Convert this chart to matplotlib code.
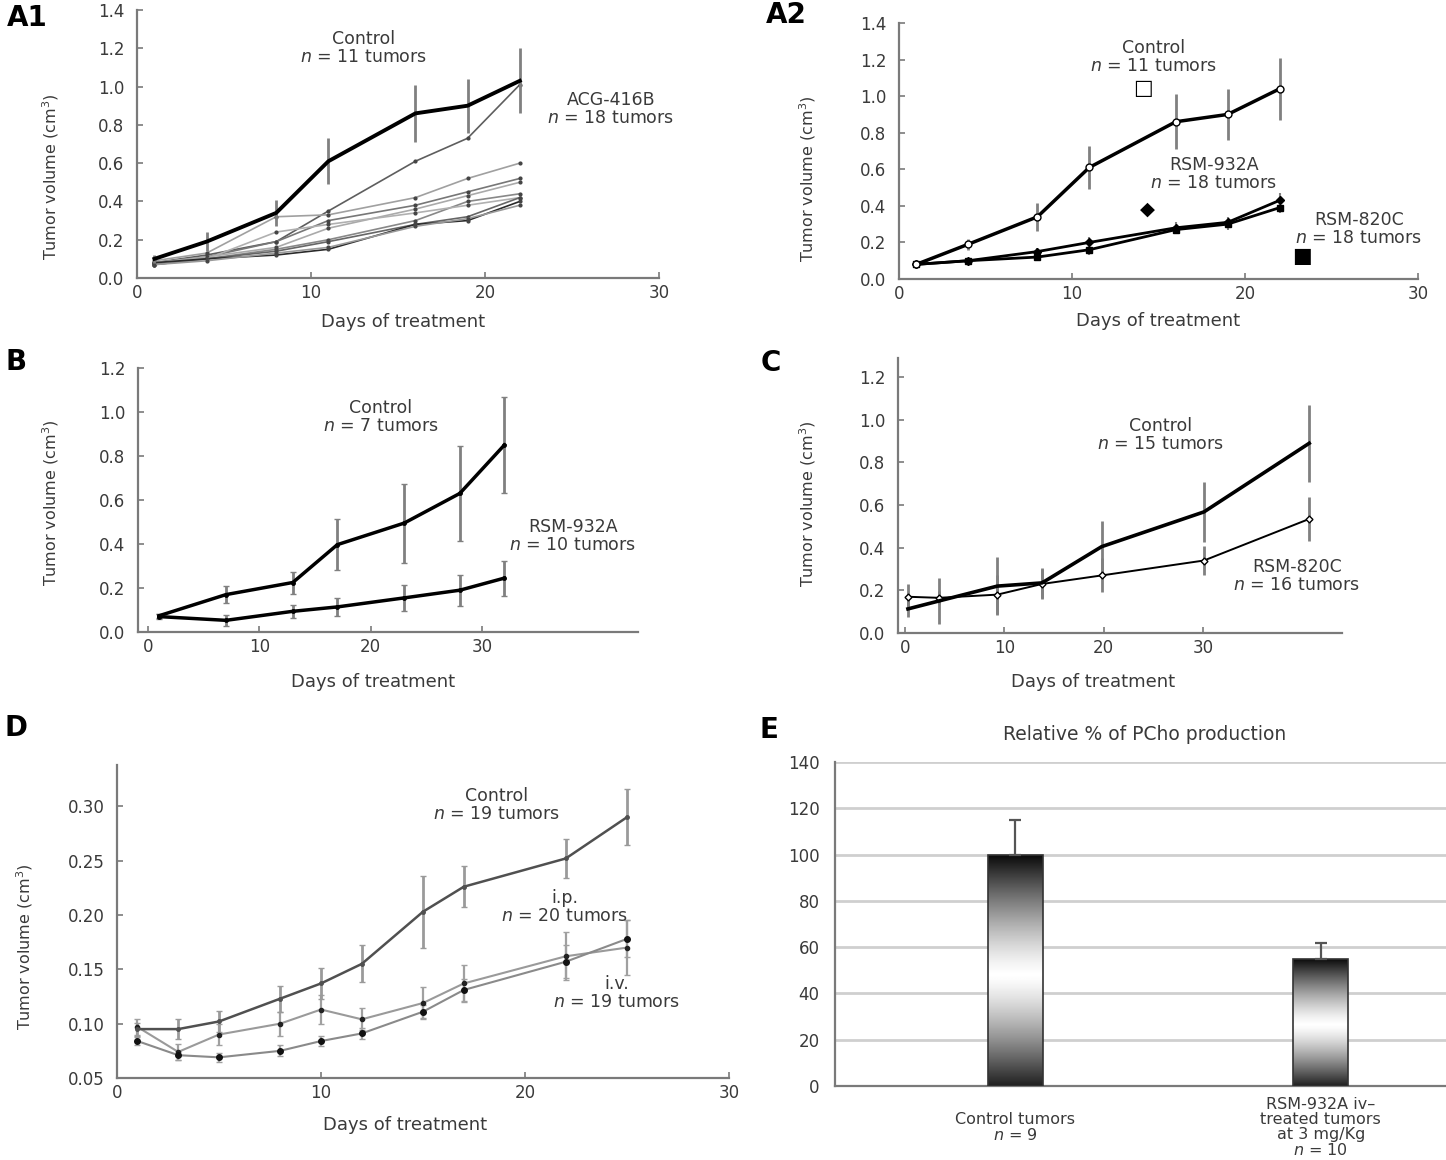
import numpy as np
import matplotlib
matplotlib.use("Agg")
import matplotlib.pyplot as plt

plt.rcParams["font.family"] = ["DejaVu Sans"]
plt.rcParams["mathtext.fontset"] = "dejavusans"

W, H = 1446, 1160
TEXT = "#3a3a3a"
SPINE = "#7a7a7a"
ERRC = "#808080"

# ---- data ----
A_DAYS = [1, 4, 8, 11, 16, 19, 22]
A1_CONTROL = [0.10, 0.19, 0.34, 0.61, 0.86, 0.90, 1.03]
A1_CONTROL_ERR = [0.02, 0.05, 0.07, 0.12, 0.15, 0.14, 0.17]
A1_ACG_1 = [0.08, 0.12, 0.19, 0.35, 0.61, 0.73, 1.01]
A1_ACG_2 = [0.09, 0.13, 0.32, 0.33, 0.42, 0.52, 0.60]
A1_ACG_3 = [0.08, 0.11, 0.19, 0.30, 0.38, 0.45, 0.52]
A1_ACG_4 = [0.08, 0.11, 0.16, 0.26, 0.36, 0.43, 0.50]
A1_ACG_5 = [0.07, 0.10, 0.15, 0.20, 0.30, 0.40, 0.44]
A1_ACG_6 = [0.08, 0.10, 0.24, 0.28, 0.34, 0.38, 0.42]
A1_ACG_7 = [0.07, 0.10, 0.14, 0.19, 0.28, 0.32, 0.42]
A1_ACG_8 = [0.08, 0.10, 0.12, 0.15, 0.28, 0.30, 0.40]
A1_ACG_9 = [0.07, 0.09, 0.13, 0.16, 0.27, 0.31, 0.38]

A2_CONTROL = [0.08, 0.19, 0.34, 0.61, 0.86, 0.90, 1.04]
A2_CONTROL_ERR = [0.01, 0.03, 0.075, 0.12, 0.15, 0.14, 0.17]
A2_RSM932A = [0.08, 0.10, 0.15, 0.20, 0.28, 0.31, 0.43]
A2_RSM932A_ERR = [0.01, 0.01, 0.02, 0.03, 0.03, 0.03, 0.04]
A2_RSM820C = [0.08, 0.10, 0.12, 0.16, 0.27, 0.30, 0.39]
A2_RSM820C_ERR = [0.01, 0.01, 0.02, 0.03, 0.02, 0.03, 0.03]

B_DAYS = [1, 7, 13, 17, 23, 28, 32]
B_CONTROL = [0.074, 0.17, 0.225, 0.397, 0.495, 0.63, 0.85]
B_CONTROL_ERR = [0.01, 0.04, 0.05, 0.115, 0.18, 0.215, 0.22]
B_RSM932A = [0.07, 0.053, 0.094, 0.114, 0.155, 0.19, 0.245]
B_RSM932A_ERR = [0.01, 0.025, 0.03, 0.04, 0.06, 0.07, 0.08]

C_DAYS = [0.3, 3.4, 9.3, 13.8, 19.8, 30.1, 40.7]
C_CONTROL = [0.113, 0.15, 0.22, 0.235, 0.405, 0.568, 0.89]
C_CONTROL_ERR = [0.04, 0.11, 0.135, 0.07, 0.12, 0.14, 0.18]
C_RSM820C = [0.17, 0.165, 0.18, 0.23, 0.27, 0.34, 0.535]
C_RSM820C_ERR = [0.06, 0.03, 0.09, 0.07, 0.08, 0.07, 0.105]

D_DAYS = [1, 3, 5, 8, 10, 12, 15, 17, 22, 25]
D_CONTROL = [0.095, 0.095, 0.102, 0.123, 0.137, 0.155, 0.203, 0.226, 0.252, 0.290]
D_CONTROL_ERR = [0.006, 0.009, 0.010, 0.012, 0.014, 0.017, 0.033, 0.019, 0.018, 0.026]
D_IP = [0.097, 0.074, 0.090, 0.100, 0.113, 0.104, 0.119, 0.137, 0.162, 0.170]
D_IP_ERR = [0.007, 0.007, 0.010, 0.011, 0.013, 0.010, 0.015, 0.017, 0.022, 0.025]
D_IV = [0.084, 0.071, 0.069, 0.075, 0.084, 0.091, 0.111, 0.131, 0.157, 0.178]
D_IV_ERR = [0.004, 0.004, 0.004, 0.005, 0.005, 0.005, 0.006, 0.010, 0.015, 0.017]

E_LABELS = ["Control tumors\n$n$ = 9",
            "RSM-932A iv–\ntreated tumors\nat 3 mg/Kg\n$n$ = 10"]
E_VALUES = [100, 55]
E_ERR = [15, 7]


def px_axes(fig, left, top, right, bottom):
    return fig.add_axes([left / W, 1 - bottom / H, (right - left) / W, (bottom - top) / H])


def ftext(fig, x, y, s, size=12.5, **kw):
    kw.setdefault("color", TEXT)
    kw.setdefault("linespacing", 0.95)
    fig.text(x / W, 1 - y / H, s, fontsize=size, ha="center", va="center", **kw)


def style(ax, ylabel_pos, xlabel_pos, ylabel=True):
    for side in ("top", "right"):
        ax.spines[side].set_visible(False)
    for side in ("left", "bottom"):
        ax.spines[side].set_color(SPINE)
        ax.spines[side].set_linewidth(1.6)
    ax.tick_params(direction="in", length=4, width=1.2, color=SPINE,
                   labelsize=12, labelcolor=TEXT)
    ax.tick_params(axis="y", pad=9)
    ax.tick_params(axis="x", pad=4)
    ax.set_xlabel("Days of treatment", fontsize=13, color=TEXT)
    ax.xaxis.set_label_coords(*xlabel_pos)
    if ylabel:
        ax.set_ylabel("Tumor volume (cm$^3$)", fontsize=11.5, color=TEXT)
        ax.yaxis.set_label_coords(*ylabel_pos)


def panel_a1(fig):
    ax = px_axes(fig, 137, 10, 659, 278)
    treated = [A1_ACG_1, A1_ACG_2, A1_ACG_3, A1_ACG_4, A1_ACG_5,
               A1_ACG_6, A1_ACG_7, A1_ACG_8, A1_ACG_9]
    greys = ["#5e5e5e", "#a0a0a0", "#777", "#aaa", "#888", "#b0b0b0", "#666", "#2a2a2a", "#999"]
    for vals, c in zip(treated, greys):
        ax.plot(A_DAYS, vals, color=c, lw=1.2, marker="o", ms=2,
                mfc="#444", mec="#444")
    ax.errorbar(A_DAYS, A1_CONTROL, yerr=A1_CONTROL_ERR, color="black", lw=2.8,
                ecolor=ERRC, elinewidth=2, capsize=0, zorder=5)
    ax.set_xlim(0, 30)
    ax.set_ylim(0, 1.4)
    ax.set_xticks([0, 10, 20, 30])
    ax.set_yticks(np.arange(0, 1.41, 0.2))
    ax.set_yticklabels([f"{v:.1f}" for v in np.arange(0, 1.41, 0.2)])
    style(ax, (-0.146, 0.377), (0.51, -0.13))
    ftext(fig, 364, 48, "Control\n$n$ = 11 tumors")
    ftext(fig, 611, 109, "ACG-416B\n$n$ = 18 tumors")


def panel_a2(fig):
    ax = px_axes(fig, 899, 23, 1418, 279)
    ax.errorbar(A_DAYS, A2_RSM932A, yerr=A2_RSM932A_ERR, color="black", lw=2,
                marker="D", ms=4.5, ecolor=ERRC, elinewidth=1.5)
    ax.errorbar(A_DAYS, A2_RSM820C, yerr=A2_RSM820C_ERR, color="black", lw=2,
                marker="s", ms=4.5, ecolor=ERRC, elinewidth=1.5)
    ax.errorbar(A_DAYS, A2_CONTROL, yerr=A2_CONTROL_ERR, color="black", lw=2.5,
                marker="o", ms=5, mfc="white", ecolor=ERRC, elinewidth=2, zorder=5)
    ax.set_xlim(0, 30)
    ax.set_ylim(0, 1.4)
    ax.set_xticks([0, 10, 20, 30])
    ax.set_yticks(np.arange(0, 1.41, 0.2))
    ax.set_yticklabels([f"{v:.1f}" for v in np.arange(0, 1.41, 0.2)])
    style(ax, (-0.156, 0.39), (0.50, -0.13))
    ftext(fig, 1154, 57, "Control\n$n$ = 11 tumors")
    ftext(fig, 1143, 88, "□", size=15, color="black")
    ftext(fig, 1214, 174, "RSM-932A\n$n$ = 18 tumors")
    ftext(fig, 1147, 209, "◆", size=14, color="black")
    ftext(fig, 1359, 229, "RSM-820C\n$n$ = 18 tumors")
    ftext(fig, 1302, 256, "■", size=15, color="black")


def panel_b(fig):
    ax = px_axes(fig, 138, 368, 638, 632)
    ax.errorbar(B_DAYS, B_CONTROL, yerr=B_CONTROL_ERR, color="black", lw=2.5,
                marker="o", ms=2.5, ecolor=ERRC, elinewidth=2, capsize=2)
    ax.errorbar(B_DAYS, B_RSM932A, yerr=B_RSM932A_ERR, color="black", lw=2.5,
                marker="o", ms=2.5, ecolor=ERRC, elinewidth=2, capsize=2)
    ax.set_xlim(-0.9, 44)
    ax.set_ylim(0, 1.2)
    ax.set_xticks([0, 10, 20, 30])
    ax.set_yticks(np.arange(0, 1.21, 0.2))
    ax.set_yticklabels([f"{v:.1f}" for v in np.arange(0, 1.21, 0.2)])
    style(ax, (-0.154, 0.49), (0.47, -0.155))
    ftext(fig, 381, 417, "Control\n$n$ = 7 tumors")
    ftext(fig, 573, 536, "RSM-932A\n$n$ = 10 tumors")


def panel_c(fig):
    ax = px_axes(fig, 898, 358, 1342, 633)
    ax.errorbar(C_DAYS, C_RSM820C, yerr=C_RSM820C_ERR, color="black", lw=1.4,
                marker="D", ms=3.5, mfc="white", ecolor=ERRC, elinewidth=2)
    ax.errorbar(C_DAYS, C_CONTROL, yerr=C_CONTROL_ERR, color="black", lw=2.6,
                ecolor=ERRC, elinewidth=2)
    ax.set_xlim(-0.7, 44)
    ax.set_ylim(0, 1.29)
    ax.set_xticks([0, 10, 20, 30])
    ax.set_yticks(np.arange(0, 1.21, 0.2))
    ax.set_yticklabels([f"{v:.1f}" for v in np.arange(0, 1.21, 0.2)])
    style(ax, (-0.18, 0.47), (0.44, -0.145))
    ftext(fig, 1161, 435, "Control\n$n$ = 15 tumors")
    ftext(fig, 1297, 576, "RSM-820C\n$n$ = 16 tumors")


def panel_d(fig):
    ax = px_axes(fig, 117, 765, 729, 1078)
    ax.errorbar(D_DAYS, D_IP, yerr=D_IP_ERR, color="#9a9a9a", lw=1.5, marker="o",
                ms=3, mfc="#222", mec="#222", ecolor="#a0a0a0", elinewidth=1.6, capsize=2)
    ax.errorbar(D_DAYS, D_IV, yerr=D_IV_ERR, color="#8a8a8a", lw=1.5, marker="o",
                ms=4, mfc="#111", mec="#111", ecolor="#a0a0a0", elinewidth=1.6, capsize=2)
    ax.errorbar(D_DAYS, D_CONTROL, yerr=D_CONTROL_ERR, color="#505050", lw=1.8,
                marker="o", ms=2.5, ecolor="#9a9a9a", elinewidth=2, capsize=2)
    ax.set_xlim(0, 30)
    ax.set_ylim(0.05, 0.338)
    ax.set_xticks([0, 10, 20, 30])
    ax.set_yticks(np.arange(0.05, 0.301, 0.05))
    ax.set_yticklabels([f"{v:.2f}" for v in np.arange(0.05, 0.301, 0.05)])
    style(ax, (-0.134, 0.42), (0.47, -0.12))
    ftext(fig, 497, 805, "Control\n$n$ = 19 tumors")
    ftext(fig, 565, 907, "i.p.\n$n$ = 20 tumors")
    ftext(fig, 617, 993, "i.v.\n$n$ = 19 tumors")


def panel_e(fig):
    ax = px_axes(fig, 835, 762, 1446, 1086)
    pos = np.arange(len(E_VALUES))
    bars = ax.bar(pos, E_VALUES, width=0.18, facecolor="none", edgecolor="#333",
                  lw=1.2, zorder=4)
    # cylinder-like shading: dark at top and bottom, white in the middle
    t = np.linspace(0, 1, 256)
    grad = (1 - np.abs(2 * t - 1.04) ** 1.3 * 0.92).reshape(-1, 1)
    for bar in bars:
        x0, w, h = bar.get_x(), bar.get_width(), bar.get_height()
        im = ax.imshow(grad, extent=[x0, x0 + w, 0, h], aspect="auto",
                       cmap="gray", vmin=0, vmax=1, zorder=3)
        im.set_clip_path(bar)
    ax.errorbar(pos, E_VALUES, yerr=[[0] * len(E_ERR), E_ERR], fmt="none",
                ecolor="#555", elinewidth=1.6, capsize=4, capthick=1.6, zorder=5)
    ax.set_xlim(-0.59, 1.41)
    ax.set_ylim(0, 140)
    ax.set_yticks(np.arange(0, 141, 20))
    ax.yaxis.grid(True, color="#cfcfcf", lw=2)
    ax.set_axisbelow(True)
    for side in ("top", "right"):
        ax.spines[side].set_visible(False)
    for side in ("left", "bottom"):
        ax.spines[side].set_color(SPINE)
        ax.spines[side].set_linewidth(1.6)
    ax.set_xticks(pos)
    ax.set_xticklabels(E_LABELS, fontsize=11.5, color=TEXT, linespacing=1.0)
    for lbl in ax.get_xticklabels():
        lbl.set_va("center")
    ax.tick_params(axis="x", length=0, pad=30)
    ax.tick_params(axis="y", length=0, pad=11, labelsize=12, labelcolor=TEXT)
    ftext(fig, 1145, 735, "Relative % of PCho production", size=13.5)


def main():
    fig = plt.figure(figsize=(W / 100, H / 100), dpi=100)
    panel_a1(fig)
    panel_a2(fig)
    panel_b(fig)
    panel_c(fig)
    panel_d(fig)
    panel_e(fig)
    for s, x, y in [("A1", 27, 18), ("A2", 786, 15), ("B", 16, 362),
                    ("C", 771, 363), ("D", 16, 728), ("E", 769, 730)]:
        ftext(fig, x, y, s, size=20, color="black", fontweight="bold")
    fig.savefig("out.png", dpi=100)
    plt.close(fig)


if __name__ == "__main__":
    main()
